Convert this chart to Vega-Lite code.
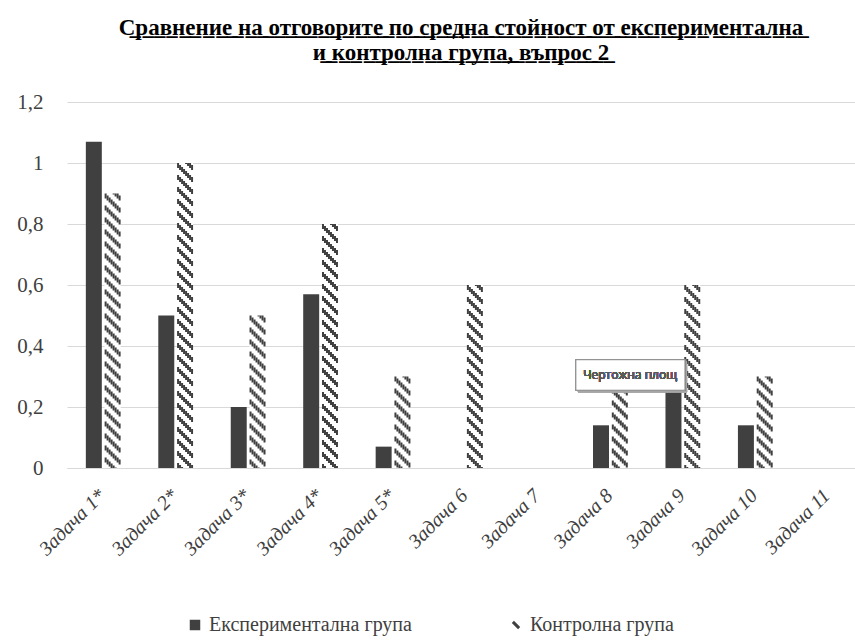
{
  "$schema": "https://vega.github.io/schema/vega-lite/v6.json",
  "autosize": {"type": "none"},
  "padding": {"left": 67, "top": 102, "right": 0, "bottom": 172},
  "width": 788,
  "height": 366,
  "background": "white",
  "title": {
    "text": ["С̲р̲а̲в̲н̲е̲н̲и̲е̲ ̲н̲а̲ ̲о̲т̲г̲о̲в̲о̲р̲и̲т̲е̲ ̲п̲о̲ ̲с̲р̲е̲д̲н̲а̲ ̲с̲т̲о̲й̲н̲о̲с̲т̲ ̲о̲т̲ ̲е̲к̲с̲п̲е̲р̲и̲м̲е̲н̲т̲а̲л̲н̲а̲", "и̲ ̲к̲о̲н̲т̲р̲о̲л̲н̲а̲ ̲г̲р̲у̲п̲а̲,̲ ̲в̲ъ̲п̲р̲о̲с̲ ̲2̲"],
    "font": "Liberation Serif, DejaVu Serif, serif",
    "fontSize": 23,
    "fontWeight": "bold",
    "color": "#000000",
    "anchor": "middle",
    "lineHeight": 25,
    "offset": 26
  },
  "config": {
    "view": {"stroke": null}
  },
  "data": {
    "values": [
      {"task": "Задача 1*", "group": "Експериментална група", "value": 1.07},
      {"task": "Задача 2*", "group": "Експериментална група", "value": 0.5},
      {"task": "Задача 3*", "group": "Експериментална група", "value": 0.2},
      {"task": "Задача 4*", "group": "Експериментална група", "value": 0.57},
      {"task": "Задача 5*", "group": "Експериментална група", "value": 0.07},
      {"task": "Задача 6", "group": "Експериментална група", "value": 0},
      {"task": "Задача 7", "group": "Експериментална група", "value": 0},
      {"task": "Задача 8", "group": "Експериментална група", "value": 0.14},
      {"task": "Задача 9", "group": "Експериментална група", "value": 0.29},
      {"task": "Задача 10", "group": "Експериментална група", "value": 0.14},
      {"task": "Задача 11", "group": "Експериментална група", "value": 0},
      {"task": "Задача 1*", "group": "Контролна група", "value": 0.9},
      {"task": "Задача 2*", "group": "Контролна група", "value": 1.0},
      {"task": "Задача 3*", "group": "Контролна група", "value": 0.5},
      {"task": "Задача 4*", "group": "Контролна група", "value": 0.8},
      {"task": "Задача 5*", "group": "Контролна група", "value": 0.3},
      {"task": "Задача 6", "group": "Контролна група", "value": 0.6},
      {"task": "Задача 7", "group": "Контролна група", "value": 0},
      {"task": "Задача 8", "group": "Контролна група", "value": 0.3},
      {"task": "Задача 9", "group": "Контролна група", "value": 0.6},
      {"task": "Задача 10", "group": "Контролна група", "value": 0.3},
      {"task": "Задача 11", "group": "Контролна група", "value": 0}
    ]
  },
  "encoding": {
    "y": {
      "field": "value",
      "type": "quantitative",
      "scale": {"domain": [0, 1.2]},
      "axis": {
        "title": null,
        "values": [0, 0.2, 0.4, 0.6, 0.8, 1, 1.2],
        "format": "~g",
        "labelExpr": "replace(datum.label, '.', ',')",
        "grid": true,
        "gridColor": "#d9d9d9",
        "domain": false,
        "ticks": false,
        "labelFont": "Liberation Serif, DejaVu Serif, serif",
        "labelColor": "#404040",
        "labelFontSize": 21,
        "labelPadding": 24
      }
    }
  },
  "layer": [
    {
      "mark": {"type": "bar"},
      "encoding": {
        "x": {
          "field": "task",
          "type": "nominal",
          "title": null,
          "scale": {
            "domain": ["Задача 1*", "Задача 2*", "Задача 3*", "Задача 4*", "Задача 5*", "Задача 6", "Задача 7", "Задача 8", "Задача 9", "Задача 10", "Задача 11"],
            "range": [0, 797],
            "paddingInner": 0.52,
            "paddingOuter": 0.26
          },
          "axis": {
            "labelAngle": -45,
            "labelFont": "Liberation Serif, DejaVu Serif, serif",
            "labelColor": "#404040",
            "labelFontStyle": "italic",
            "labelFontSize": 20,
            "ticks": false,
            "domainColor": "#d9d9d9",
            "labelPadding": 17,
            "labelOffset": -8
          }
        },
        "xOffset": {
          "field": "group",
          "type": "nominal",
          "scale": {"domain": ["Експериментална група", "Контролна група"], "paddingInner": 0.15, "paddingOuter": 0}
        },
        "color": {
          "field": "group",
          "type": "nominal",
          "scale": {"domain": ["Експериментална група", "Контролна група"], "range": ["#404040", "#ffffff"]},
          "legend": {
            "orient": "none",
            "legendX": 118,
            "legendY": 513,
            "direction": "horizontal",
            "title": null,
            "labelFont": "Liberation Serif, DejaVu Serif, serif",
            "labelFontSize": 20,
            "labelColor": "#404040",
            "labelLimit": 400,
            "symbolType": "square",
            "symbolSize": 110,
            "symbolStrokeWidth": 0,
            "columnPadding": 94,
            "encode": {
              "symbols": {
                "update": {
                  "shape": {"signal": "datum.value === 'Контролна група' ? 'M-0.6,-0.6L0.6,0.6' : 'square'"},
                  "stroke": {"value": "#404040"},
                  "strokeWidth": {"signal": "datum.value === 'Контролна група' ? 3 : 0"}
                }
              }
            }
          }
        }
      }
    },
    {
      "transform": [{"filter": "datum.group === 'Контролна група'"}],
      "mark": {"type": "rule", "color": "#404040", "strokeWidth": 2, "strokeDash": [5, 7], "strokeDashOffset": 0},
      "encoding": {"x": {"field": "task", "type": "nominal", "bandPosition": 0.569}, "y2": {"datum": 0}}
    },
    {
      "transform": [{"filter": "datum.group === 'Контролна група'"}],
      "mark": {"type": "rule", "color": "#404040", "strokeWidth": 2, "strokeDash": [5, 7], "strokeDashOffset": 10},
      "encoding": {"x": {"field": "task", "type": "nominal", "bandPosition": 0.626}, "y2": {"datum": 0}}
    },
    {
      "transform": [{"filter": "datum.group === 'Контролна група'"}],
      "mark": {"type": "rule", "color": "#404040", "strokeWidth": 2, "strokeDash": [5, 7], "strokeDashOffset": 8},
      "encoding": {"x": {"field": "task", "type": "nominal", "bandPosition": 0.684}, "y2": {"datum": 0}}
    },
    {
      "transform": [{"filter": "datum.group === 'Контролна група'"}],
      "mark": {"type": "rule", "color": "#404040", "strokeWidth": 2, "strokeDash": [5, 7], "strokeDashOffset": 6},
      "encoding": {"x": {"field": "task", "type": "nominal", "bandPosition": 0.741}, "y2": {"datum": 0}}
    },
    {
      "transform": [{"filter": "datum.group === 'Контролна група'"}],
      "mark": {"type": "rule", "color": "#404040", "strokeWidth": 2, "strokeDash": [5, 7], "strokeDashOffset": 4},
      "encoding": {"x": {"field": "task", "type": "nominal", "bandPosition": 0.799}, "y2": {"datum": 0}}
    },
    {
      "transform": [{"filter": "datum.group === 'Контролна група'"}],
      "mark": {"type": "rule", "color": "#404040", "strokeWidth": 2, "strokeDash": [5, 7], "strokeDashOffset": 2},
      "encoding": {"x": {"field": "task", "type": "nominal", "bandPosition": 0.856}, "y2": {"datum": 0}}
    },
    {
      "transform": [{"filter": "datum.group === 'Контролна група'"}],
      "mark": {"type": "rule", "color": "#404040", "strokeWidth": 2, "strokeDash": [5, 7], "strokeDashOffset": 0},
      "encoding": {"x": {"field": "task", "type": "nominal", "bandPosition": 0.914}, "y2": {"datum": 0}}
    },
    {
      "transform": [{"filter": "datum.group === 'Контролна група'"}],
      "mark": {"type": "rule", "color": "#404040", "strokeWidth": 2, "strokeDash": [5, 7], "strokeDashOffset": 10},
      "encoding": {"x": {"field": "task", "type": "nominal", "bandPosition": 0.971}, "y2": {"datum": 0}}
    },
    {
      "mark": {"type": "rect", "fill": "#a6a6a6", "opacity": 0.5},
      "encoding": {
        "x": {"datum": "Задача 7", "bandPosition": 1.65},
        "x2": {"datum": "Задача 9", "bandPosition": 0.62},
        "y": {"datum": 0.248},
        "y2": {"datum": 0.348}
      }
    },
    {
      "mark": {"type": "rect", "fill": "#ffffff", "stroke": "#8c8c8c", "strokeWidth": 1},
      "encoding": {
        "x": {"datum": "Задача 7", "bandPosition": 1.59},
        "x2": {"datum": "Задача 9", "bandPosition": 0.56},
        "y": {"datum": 0.255},
        "y2": {"datum": 0.355}
      }
    },
    {
      "mark": {"type": "text", "align": "left", "baseline": "middle", "font": "Open Sans", "fontSize": 12, "fontWeight": "normal", "color": "#595959"},
      "encoding": {
        "x": {"datum": "Задача 7", "bandPosition": 1.8},
        "y": {"datum": 0.305},
        "text": {"value": "Чертожна площ"}
      }
    }
  ]
}
